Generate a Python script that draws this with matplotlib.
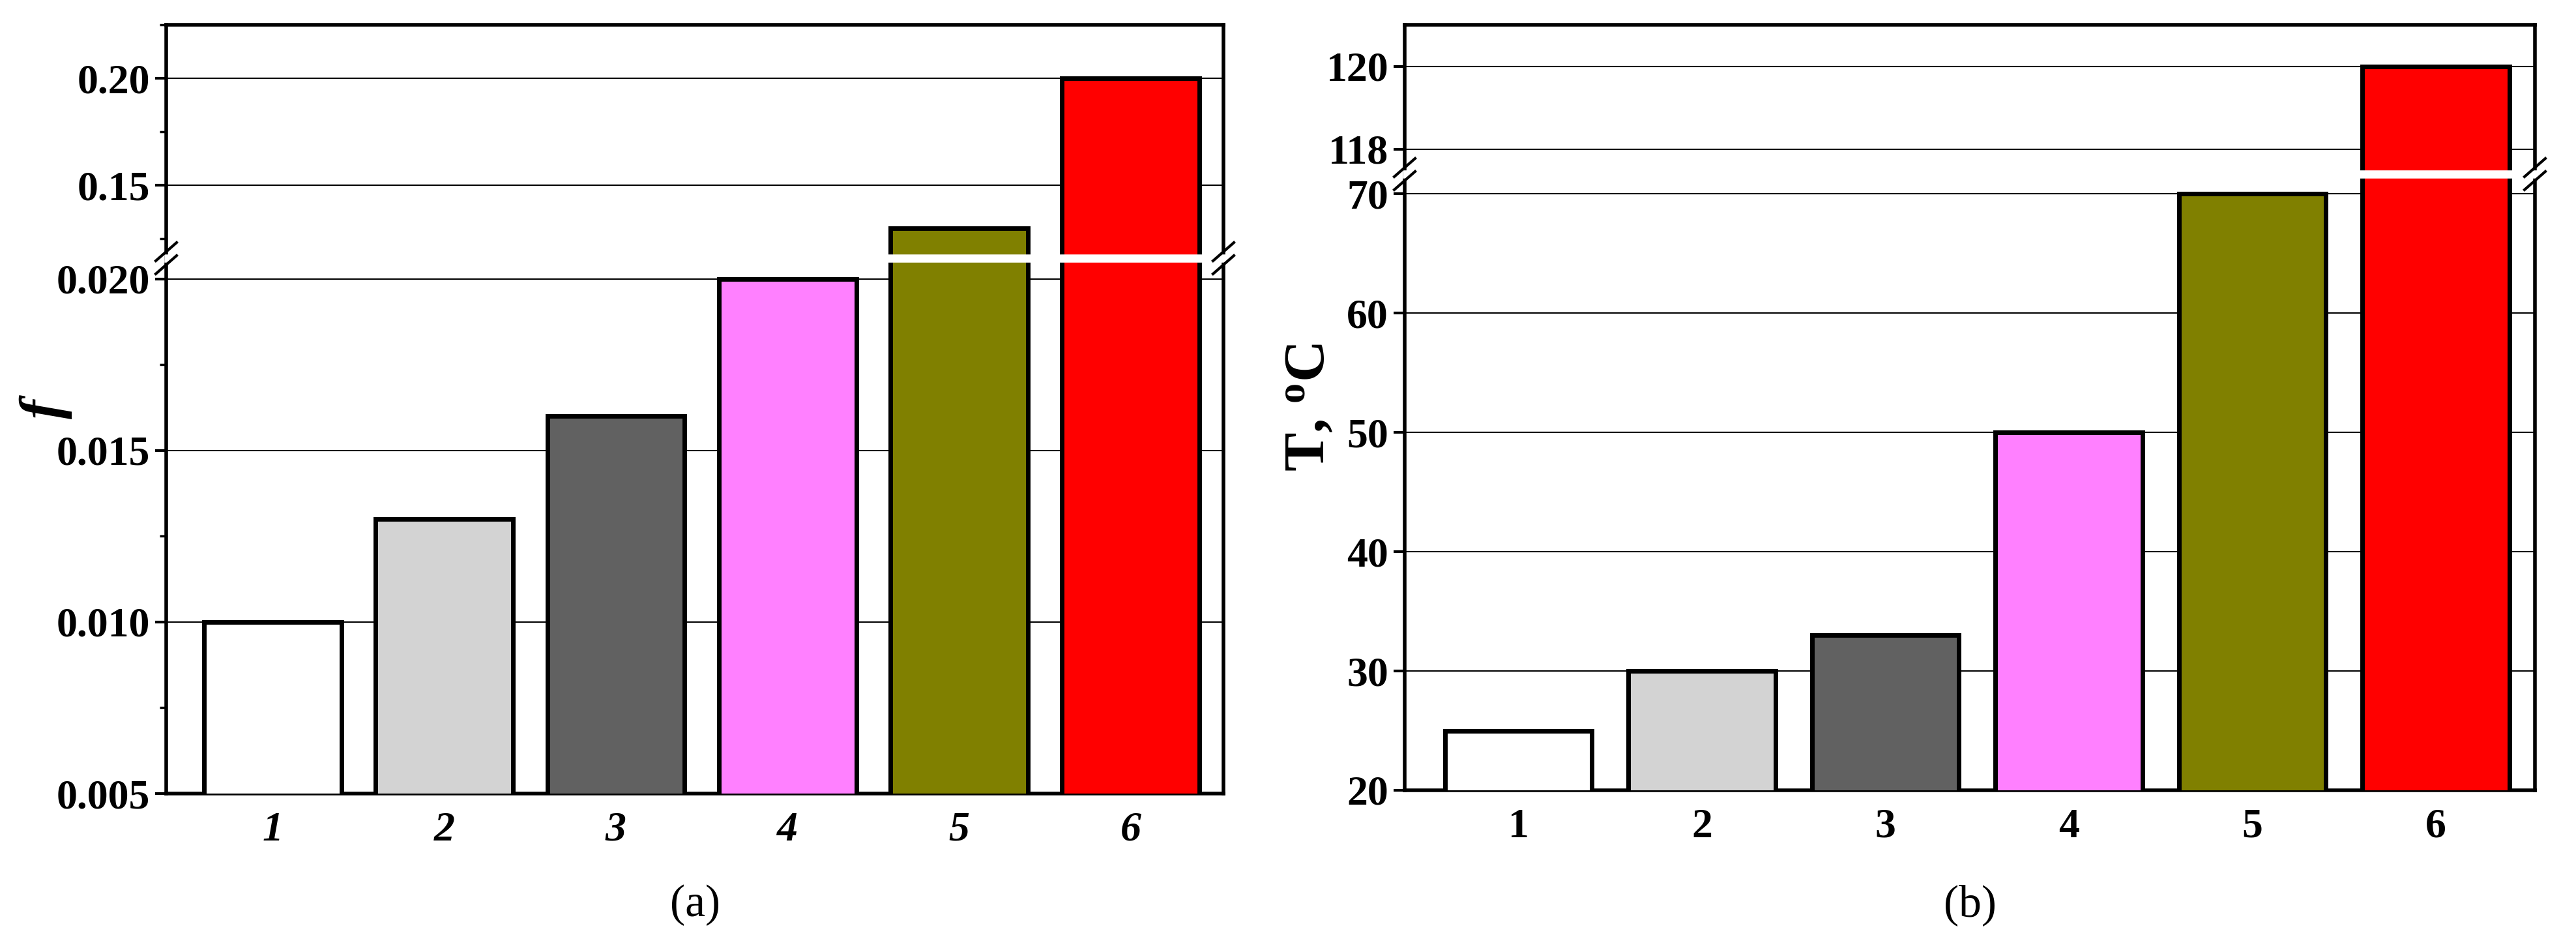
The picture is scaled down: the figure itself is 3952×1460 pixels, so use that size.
import matplotlib
matplotlib.use("Agg")
import matplotlib.pyplot as plt
from matplotlib.lines import Line2D
from matplotlib.ticker import MultipleLocator

plt.rcParams['font.family'] = ['Liberation Serif', 'DejaVu Serif']
plt.rcParams['font.weight'] = 'bold'
plt.rcParams['mathtext.fontset'] = 'custom'
plt.rcParams['mathtext.bf'] = 'Liberation Serif:bold'
plt.rcParams['mathtext.rm'] = 'Liberation Serif'

cats = ['1', '2', '3', '4', '5', '6']
colors = ['#ffffff', '#d3d3d3', '#616161', '#ff80ff', '#808000', '#ff0000']
f_vals = [0.010, 0.013, 0.016, 0.020, 0.13, 0.20]
t_vals = [25, 30, 33, 50, 70, 120]

W, H = 3952, 1460
fig = plt.figure(figsize=(W/100, H/100), dpi=100)
FS = 46

def panel(x0, x1, ytop, ybrk, ybot, vals, lo_lim, hi_lim, lo_ticks, hi_ticks, lo_minor, hi_minor,
          lo_fmt, hi_fmt, italic, ylabel, ylab_x, letter, ylabsize, ylab_style):
    lax = fig.add_axes([x0/W, 1-ybot/H, (x1-x0)/W, (ybot-ybrk)/H])
    uax = fig.add_axes([x0/W, 1-ybrk/H, (x1-x0)/W, (ybrk-ytop)/H])
    xs = range(len(cats))
    for ax, lim, ticks, mn, fmt in ((lax, lo_lim, lo_ticks, lo_minor, lo_fmt),
                                    (uax, hi_lim, hi_ticks, hi_minor, hi_fmt)):
        ax.bar(xs, vals, width=0.8, color=colors, edgecolor='black', linewidth=5, zorder=3)
        ax.set_ylim(*lim)
        ax.set_xlim(-0.62, 5.54)
        ax.set_yticks(ticks)
        ax.set_yticklabels([fmt.format(t) for t in ticks], fontsize=FS, fontweight='bold')
        if mn:
            ax.yaxis.set_minor_locator(MultipleLocator(mn))
        ax.grid(axis='y', color='black', linewidth=1.5, zorder=0)
        for s in ax.spines.values():
            s.set_linewidth(4)
        ax.tick_params(axis='y', which='major', length=12, width=3, direction='out', pad=6)
        ax.tick_params(axis='y', which='minor', length=7, width=2.5, direction='out')
    uax.spines['bottom'].set_visible(False)
    lax.spines['top'].set_visible(False)
    uax.set_xticks([])
    lax.set_xticks(list(xs))
    lax.set_xticklabels(cats, fontsize=FS, fontweight='bold', style='italic' if italic else 'normal')
    lax.tick_params(axis='x', length=0, pad=20)
    yb = 1 - ybrk/H
    fig.add_artist(Line2D([(x0+3)/W, (x1-3)/W], [yb, yb], color='white', linewidth=9, zorder=10))
    for xx in (x0, x1):
        for dy in (-10, 10):
            fig.add_artist(Line2D([(xx-16)/W, (xx+16)/W], [yb + (dy-14)/H, yb + (dy+14)/H],
                                  color='black', linewidth=3, zorder=11))
    fig.text(ylab_x/W, 1-(ytop+ybot)/2/H, ylabel, rotation=90, ha='center', va='center',
             fontsize=ylabsize, fontweight='bold', style=ylab_style)
    fig.text((x0+x1)/2/W, 1-1388/H, letter, ha='center', va='center', fontsize=50, fontweight='normal')

panel(255, 1877, 38, 396, 1217, f_vals, (0.005, 0.0206), (0.116, 0.225),
      [0.005, 0.010, 0.015, 0.020], [0.15, 0.20], 0.0025, 0.025, '{:.3f}', '{:.2f}', True,
      'f', 70, '(a)', 64, 'italic')
panel(2155, 3889, 38, 267, 1212, t_vals, (20, 71.65), (117.4, 121),
      [20, 30, 40, 50, 60, 70], [118, 120], None, None, '{:g}', '{:g}', False,
      'T, $\\mathbf{^o}$C', 2010, '(b)', 64, 'normal')

fig.savefig('out.png', dpi=100)
